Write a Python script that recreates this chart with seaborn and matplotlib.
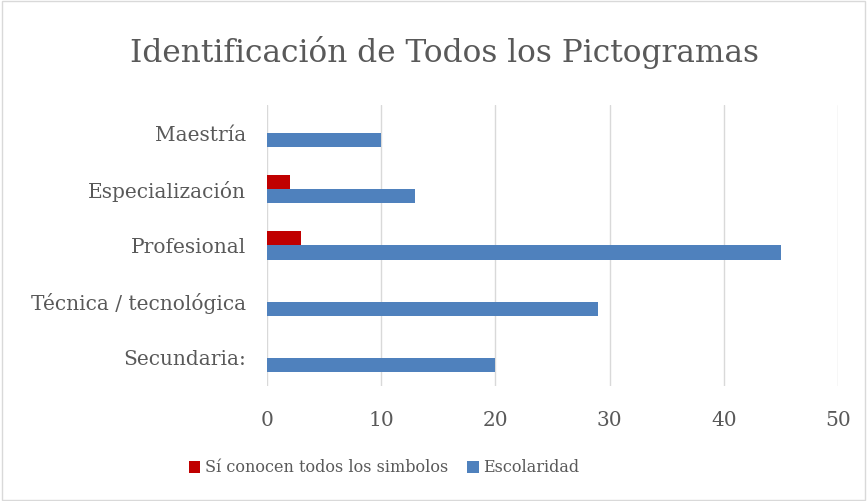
import numpy as np
import pandas as pd
import matplotlib
matplotlib.use("Agg")
import matplotlib.pyplot as plt
import seaborn as sns
from matplotlib.patches import Rectangle

# data (top to bottom)
categorias = ["Maestría", "Especialización", "Profesional",
              "Técnica / tecnológica", "Secundaria:"]
conocen = [0, 2, 3, 0, 0]
escolaridad = [10, 13, 45, 29, 20]
series = ["Sí conocen todos los simbolos", "Escolaridad"]
colores = ["#C00000", "#4F81BD"]
xticks = [0, 10, 20, 30, 40, 50]

df = pd.DataFrame({
    "Nivel": categorias * 2,
    "Valor": conocen + escolaridad,
    "Serie": [series[0]] * len(categorias) + [series[1]] * len(categorias),
})

sns.set_style("white")
plt.rcParams['font.family'] = ['DejaVu Serif']
txt = "#595959"

fig = plt.figure(figsize=(8.67, 5.01), dpi=100)
ax = fig.add_axes([0.308, 0.2295, 0.6586, 0.561])

sns.barplot(data=df, x="Valor", y="Nivel", hue="Serie", hue_order=series,
            palette=colores, orient="h", width=0.5, ax=ax,
            saturation=1, legend=True, linewidth=0, edgecolor="none")

ax.set_xlim(0, 50)
ax.set_xticks(xticks)
ax.set_xticklabels([str(t) for t in xticks], fontsize=14.5, color=txt)
ax.tick_params(axis="y", labelsize=14.5, labelcolor=txt, length=0, pad=15)
ax.tick_params(axis="x", length=0, pad=18)
ax.grid(axis="x", color="#d9d9d9", linewidth=1)
ax.set_axisbelow(True)
for s in ax.spines.values():
    s.set_visible(False)
ax.set_xlabel("")
ax.set_ylabel("")

h, l = ax.get_legend_handles_labels()
ax.get_legend().remove()
fig.legend(h, l, loc="center left", bbox_to_anchor=(0.218, 0.066), ncol=2,
           frameon=False, fontsize=11.5, labelcolor=txt, handlelength=0.7,
           handleheight=0.8, handletextpad=0.3, columnspacing=1.2,
           borderpad=0, borderaxespad=0)

fig.text(0.513, 0.895, "Identificación de Todos los Pictogramas",
         ha="center", va="center", fontsize=22.5, color=txt)

fig.patches.append(Rectangle((0.002, 0.002), 0.996, 0.996, transform=fig.transFigure,
                             fill=False, edgecolor="#d9d9d9", linewidth=1))

fig.savefig("out.png", dpi=100)
